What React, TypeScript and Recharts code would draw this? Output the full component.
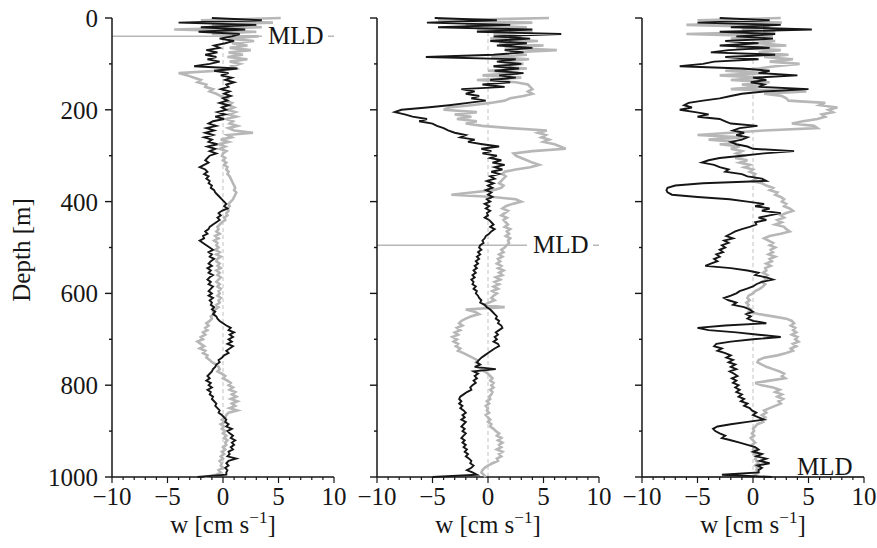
import React from 'react'
import { ScatterChart, Scatter, XAxis, YAxis, ReferenceLine } from 'recharts'

// depth grid, 5 m steps (0..1000 m)
const depths: number[] = Array.from({ length: 201 }, (_, i) => i * 5)

// left profile
const leftBlack = [
  -1, 3.5, -4, 3, -2, 2, -2.2, 1.5, 0.8, -0.3, 1, 0.2, -0.8, -0.3, -1.5, -0.5, -1.6, -0.6, -1.4, -0.3,
  -1.2, -2.6, 1.3, -0.8, 0.5, -0.2, 0.8, 0.2, 1, 0.3, 0.5, -0.2, 0.6, 0.1, 0.7, 0, 0.4, -0.3, 0.5, -0.1,
  0.3, -0.5, 0.2, -0.7, 0.1, -0.9, -1.3, -0.6, -1.5, -0.8, -1.6, -0.9, -1.7, -1, -1.3, -0.5, -1.4, -0.7, -1.2, -0.6,
  -1.2, -1.4, -1.6, -1.3, -1.7, -2.1, -1.6, -1.4, -1.7, -1.3, -1.5, -1.2, -1.3, -1, -1.1, -0.8, -0.7, -0.5, -0.3, -0.1,
  0.1, 0.3, 0.1, 0.4, -0.1, -0.4, -0.2, -0.5, -0.3, -0.6, -0.9, -1.2, -1.3, -1.6, -1.4, -1.8, -1.7, -2.1, -1.8, -1.5,
  -1.2, -0.9, -1.3, -1, -1.2, -0.8, -1.1, -1.3, -1, -1.4, -1.1, -1.3, -0.9, -1.2, -1.4, -1.1, -1.3, -0.9, -1.1, -1.3,
  -1, -1.3, -0.9, -1.2, -1, -1.1, -0.8, -1, -0.7, -0.9, -0.6, -0.5, -0.3, 0, 0.3, 0.7, 0.5, 1, 0.6, 0.9,
  0.5, 0.8, 0.4, 0.9, 0.6, 0.3, 0.5, 0.1, -0.1, -0.4, -0.3, -0.6, -0.7, -0.9, -1, -1.2, -1.4, -1.2, -1.5, -1.1,
  -1.3, -1, -1.4, -1.1, -1.2, -0.9, -1, -0.8, -0.6, -0.7, -0.5, -0.3, -0.4, -0.1, 0.1, 0.3, 0.2, 0.5, 0.3, 0.8,
  0.4, 0.6, 0.9, 0.7, 1.1, 0.8, 1, 0.7, 0.9, 0.5, 0.6, 0.4, 1.2, 0.5, 0.3, 0.5, 0.2, 0.4, 0.3, 0.3,
  -2.3,
]
const leftGray = [
  5.2, -2, 4.5, -1, 3.5, -4.4, 3, -1, 3.2, 0.5, 2.8, 0.8, 2.2, 0.6, 2.5, 0.5, 1.8, 0.4, 2.2, 0.6,
  1.5, 0.8, 1.2, -0.5, -4, -3.2, -2.6, -2, -2.3, -1.5, -1.6, -0.9, -1.2, -0.6, -0.2, 0.4, 0.2, 0.8, 0.5, 1,
  0.4, 1.1, 0.5, 1.2, 0.3, 0.9, 0.6, 1.3, 0.5, 1, 2.7, 0.4, 0.8, -0.2, 0.5, -0.4, 0.2, -0.3, 0.3, 0,
  -0.1, 0.2, 0, 0.3, 0.1, 0.4, 0.3, 0.5, 0.4, 0.6, 0.7, 0.8, 0.9, 1, 1.1, 1, 1.2, 1.1, 1, 0.9,
  0.7, 0.5, 0.6, 0.4, 0.5, 0.3, 0.4, 0.1, 0.2, -0.1, -0.3, -0.5, -0.4, -0.6, -0.3, -0.7, -0.4, -0.8, -0.5, -0.6,
  -0.4, -0.7, -0.3, -0.6, -0.2, -0.5, -0.6, -0.3, -0.5, -0.2, -0.6, -0.3, -0.5, -0.2, -0.4, -0.6, -0.3, -0.5, -0.2, -0.4,
  -0.3, -0.5, -0.2, -0.4, -0.3, -0.6, -0.4, -0.7, -0.9, -0.8, -1.1, -1, -1.2, -1.5, -1.3, -1.6, -1.4, -1.8, -1.6, -2,
  -1.8, -2.3, -2, -1.7, -2.1, -1.6, -1.8, -1.4, -1.5, -1.2, -1, -0.6, -0.4, -0.3, -0.5, -0.1, 0.2, 0, 0.4, 0.7,
  0.5, 0.9, 0.6, 1.1, 0.8, 1.2, 0.7, 1.3, 0.8, 1.1, 0.6, 1.3, 0.5, 0.3, 0.2, -0.1, 0.2, -0.2, 0.1, -0.1,
  0.2, 0, 0.3, 0.1, 0.4, 0.2, 0.3, 0, 0.2, -0.1, 0.1, -0.2, 0, -0.3, -0.1, -0.2, 0, -0.4, -0.2, -0.6,
  -1.7,
]

// middle profile
const midBlack = [
  -4.8, 0.8, -5.5, 2, -4.5, 4, -1, 6.6, 0.5, 3.8, 0.2, 3.5, 0.8, 4, 1.5, 3.2, 0.5, -5.6, 2.5, 0.8,
  3, 0.5, 2.8, 0.6, 3.2, 1, 2.5, 0.2, 2, -0.5, 1.5, -2.4, -1.2, -2, -0.8, -1.5, -0.2, -1.8, -3.5, -5.5,
  -7.8, -8.4, -7.5, -6.8, -5.5, -6.2, -5, -4.6, -4, -3.6, -3, -2, -2.5, -1.2, -1.8, -0.5, 1, -0.6, 0.3, -0.5,
  0.8, 0.2, 1.2, 0.4, 1.5, 0.6, 1.3, 0.3, 1, 0.2, 0.6, -0.1, 0.5, 0, 0.4, -0.2, 0.3, 0, 0.4, -0.1,
  0.2, -0.3, 0.1, -0.2, 0.2, -0.1, 0, -0.3, 0.1, 0.3, 0.5, 0.2, 0.6, 0.3, 0.1, -0.2, -0.3, -0.5, -0.4, -0.7,
  -0.8, -0.6, -0.9, -0.7, -1, -0.8, -1.1, -0.9, -1.2, -1, -1.3, -1.1, -1.4, -1.2, -1.5, -1.3, -1.4, -1.1, -1.3, -1,
  -1.1, -0.9, -0.8, -0.6, -0.7, -0.3, -0.1, 0.2, 0.4, 0.6, 0.8, 0.7, 1, 0.9, 1.2, 1.3, 1, 0.7, 0.9, 0.6,
  0.8, 0.5, 0.9, 1, 0.6, 0.3, 0, -0.3, -0.6, -0.8, -1, -0.7, -1.2, 0.7, -1.3, -0.9, -1.2, -1, -1.3, -1.1,
  -1.4, -1.6, -1.5, -1.9, -2.2, -2.5, -2.6, -2.4, -2.6, -2.3, -2.5, -2.2, -2, -2.3, -2.1, -2.4, -2, -2.2, -2.4, -2.1,
  -2.3, -2, -2.2, -2.4, -2.1, -2.3, -2, -2.2, -1.9, -2.1, -1.8, -2, -1.7, -1.5, -1.6, -1.3, -1.5, -1.9, -1.4, -1,
  -5,
]
const midGray = [
  5.5, -4.5, 4, -2, 3.5, -1, 4, 0.5, 3, 0.2, 4.5, 1, 5, 1.5, 6.2, 2, 3.5, 0.3, 3.7, 1,
  3.2, 0.5, 3.5, 0, 2.8, -0.5, 3, -1, 2.5, 3.6, 3.8, 4, 3.6, 4, 3.2, 2, 1.5, 0.2, -1.5, -3.5,
  -4, -1, -3, -1.5, -2.8, -1, -2, -0.5, 2, 5.3, 4.5, 5.2, 4.8, 5.5, 5, 6, 6.5, 7, 4, 2.3,
  2.5, 3, 3.5, 4, 4.6, 3.8, 2.5, 1.5, 1.3, 1.6, 1.4, 1.2, 1, 1.4, 1.2, 0.5, -1.5, -3.3, 0.5, 2.5,
  3, 2.2, 1.6, 1.3, 1.8, 1.5, 1.2, 1.7, 1.4, 1.6, 1.8, 1.5, 2, 1.7, 1.9, 1.6, 2, 1.8, 1.9, 1.7,
  1.5, 1.2, 1.4, 1, 1.3, 0.9, 1.1, 0.8, 1.2, 0.9, 1.4, 1, 1.3, 0.7, 1.1, 0.6, 1, 0.5, 0.9, 0.4,
  0.8, 0.5, 0.3, 0.6, 0.1, -0.4, 1.5, -2, -1.2, -0.8, -1.5, -2, -2.4, -2.6, -2.3, -2.8, -2.5, -3, -2.7, -3.2,
  -2.8, -3.1, -2.7, -2.9, -2.5, -2.7, -2.2, -1.8, -1.4, -1, -1.1, -0.8, -1, -0.6, -0.3, 0, 0.2, 0.4, 0.2, 0.5,
  0.3, 0.5, 0.2, 0.4, 0.3, 0.1, 0.2, -0.1, 0.1, -0.2, 0, -0.1, 0.1, -0.2, 0, 0.2, 0, 0.3, 0.2, 0.5,
  0.7, 1, 0.8, 1.2, 0.9, 1.3, 1, 1.2, 0.8, 1.3, 1, 1.2, 0.8, 0.9, 0.4, 0, -0.3, -0.5, -0.6, -0.4,
  -0.2,
]

// right profile
const rightBlack = [
  -3, 1.5, -5, 2.5, -2, 5.3, -3, 2, -1.5, 1.8, -2.5, 0.5, -3, 1.5, -2.2, -3.8, 2, -2.5, 0.5, -3.5,
  -4.5, -6.6, -1, 1.5, 0.5, 4, 0, 1.2, -0.2, 1, 0.5, 5, 1, -1, -2, -3, -4.5, -5.8, -6.2, -5.5,
  -6.6, -5.2, -4, -5, -3, -2.5, -2, 0.4, -1.2, -1.8, -0.8, -1.5, -0.5, -1, -2, -1.5, -0.5, 0, 3.7, 1,
  -1, -3, -4, -4.6, -3.5, -3, -2.2, -2.5, -1, -0.5, 0.8, 1.2, -4.5, -7, -7.7, -7.8, -7.7, -7.3, -5, -2.1,
  -0.5, 1, 0.2, 1.5, 0.8, 2.5, 1.5, 0.5, 1.2, 0.2, 0.3, -0.3, -1, -1.6, -2, -2.4, -1.8, -2.6, -2.2, -2.8,
  -2.5, -3, -2.7, -3.3, -3, -3.5, -3.2, -3.8, -4.3, -2, -0.5, 0.5, 0.2, 1.2, 1.8, 0.8, 0.3, 0, -0.6, -1.2,
  -1.5, -2, -2.6, -2.2, -1.5, -1.8, -0.8, -0.3, 0, -0.6, -0.2, -0.5, 0, 1.2, -2.5, -5, -4, -1.5, 0.5, 2.5,
  0, -2, -3.3, -3.5, -2.8, -3.2, -2.5, -2, -2.4, -1.8, -2.2, -1.6, -2, -1.5, -2.1, -1.7, -1.4, -1.9, -1.5, -1.8,
  -1.3, -1.6, -1.2, -1.5, -1, -1.3, -0.8, -1.1, -0.5, -0.8, -0.3, -0.1, 0.3, 0, 0.5, 1, -0.5, -2, -3.2, -3.6,
  -3.4, -3, -2.5, -2.8, -2, -1.2, -0.5, 0.2, 0.5, 0, 0.8, 0.3, 1.2, 0.6, 1.5, 0.4, 0.8, 0.5, 0.5, -2.8,
  1.7,
]
const rightGray = [
  2.5, -5, 2.6, -6, 1.5, -1, 2, -6, 1.8, -2, 2, 0.5, 3, -1.5, 2.5, 0.5, 3.2, 1, 3.6, 1.5,
  4.2, 2, 0.5, -2.5, 1, -3, 0.8, -2, 1.5, -1, 0.5, -2, 4.8, 1, 2.6, 3, 3.2, 6.5, 6, 7.6,
  6.8, 7.2, 6.2, 6.5, 5.8, 4.5, 3.5, 5.5, 5.8, 1, -2, -5, -1, -4, -1.5, -3, -1.2, -2, -1, -1.5,
  -0.8, -1.6, -0.5, -1.2, -0.3, -0.8, 0, -0.3, 0.2, 0, 0.3, -0.1, 0.8, 1.2, 1.8, 1.5, 2.2, 2, 2.5, 2.8,
  2.6, 3, 2.8, 3.3, 3.6, 3, 2.5, 2.8, 2.2, 2.6, 2, 2.8, 3, 3.3, 2.5, 1.5, 1, 1.4, 1.8, 1.5,
  2, 1.6, 1.8, 1.4, 2, 1.5, 1.7, 1.2, 1.6, 1.1, 1.2, 0.9, 1.3, 1, 1.2, 0.8, 1.1, 0.9, 0.6, 0.2,
  0, -0.4, -0.5, -0.3, -0.6, -0.4, -0.5, -0.2, -0.4, 0.5, 1.8, 3, 3.5, 3.7, 3.4, 3.8, 3.6, 3.9, 3.5, 4,
  3.8, 4.1, 3.6, 3.9, 3.4, 3.6, 3, 2.2, 1, 0.5, 0.4, 0.8, 1.2, 1.8, 2.4, 2.8, 2.6, 2.9, 1.5, 0.2,
  0.8, 1.8, 2.4, 2, 2.6, 2.2, 2.7, 2.3, 2.5, 2, 1.5, 1, 1.2, 0.8, 1.1, 0.7, 0.9, 0.4, 0.2, 0,
  0.1, -0.1, 0.1, -0.2, 0, 0.2, -0.1, 0.1, 0, 0.3, 0.1, 0.4, 0.2, 0.3, 0.5, 0.2, 0.4, 0.3, 0.5, 0.2,
  0.3,
]

const mixedLayerDepths = [40, 495, 1000]
const xTicks = [-10, -9, -8, -7, -6, -5, -4, -3, -2, -1, 0, 1, 2, 3, 4, 5, 6, 7, 8, 9, 10]
const yTicks = [0, 100, 200, 300, 400, 500, 600, 700, 800, 900, 1000]

const FONT = '"Liberation Serif", "Times New Roman", serif'
const INK = '#161616'
const GRAY = '#b7b7b7'
const FS = 25
const AXIS_W = 112
const PLOT_W = 222
const RIGHT = 24
const TOP = 18
const BOTTOM = 477
const CHART_H = 548

const toPoints = (vals: number[]) => vals.map((w, i) => ({ w, d: depths[i] }))
const fmt = (v: number) => (v < 0 ? `\u2212${-v}` : `${v}`)
const NoDot = () => <g />

function YTick({ y, payload, showLabel }: any) {
  const v = payload.value
  const major = v % 200 === 0
  return (
    <g>
      <line x1={AXIS_W - (major ? 7 : 3)} x2={AXIS_W} y1={y} y2={y} stroke={INK} strokeWidth={1.4} />
      {showLabel && major && (
        <text x={AXIS_W - 14} y={y + 9} textAnchor="end" fontFamily={FONT} fontSize={FS} fill={INK}>
          {v}
        </text>
      )}
    </g>
  )
}

function XTick({ x, payload }: any) {
  const v = payload.value
  const major = v % 5 === 0
  return (
    <g>
      <line x1={x} x2={x} y1={BOTTOM} y2={BOTTOM + (major ? 6 : 3)} stroke={INK} strokeWidth={1.2} />
      {major && (
        <text x={x} y={BOTTOM + 28} textAnchor="middle" fontFamily={FONT} fontSize={FS} fill={INK}>
          {fmt(v)}
        </text>
      )}
    </g>
  )
}

function XTitle({ viewBox }: any) {
  const cx = viewBox.x + viewBox.width / 2
  return (
    <text x={cx} y={BOTTOM + 56} textAnchor="middle" fontFamily={FONT} fontSize={FS} fill={INK}>
      <tspan>w [cm s</tspan>
      <tspan dy={-10} fontSize={17}>{'\u22121'}</tspan>
      <tspan dy={10}>]</tspan>
    </text>
  )
}

function YTitle() {
  return (
    <text x={30} y={250} transform="rotate(-90 30 250)" textAnchor="middle" fontFamily={FONT} fontSize={FS} fill={INK}>
      Depth [m]
    </text>
  )
}

function MldLabel({ viewBox, atBottom }: any) {
  const { x, y } = viewBox
  if (atBottom) {
    return (
      <text x={x + 155} y={y - 2} fontFamily={FONT} fontSize={FS} fill={INK}>
        MLD
      </text>
    )
  }
  return (
    <g>
      <rect x={x + 150} y={y - 13} width={66} height={26} fill="#fff" />
      <text x={x + 156} y={y + 8} fontFamily={FONT} fontSize={FS} fill={INK}>
        MLD
      </text>
    </g>
  )
}

function Panel({ left, black, gray, mld, showY }: any) {
  return (
    <div style={{ position: 'absolute', left, top: 0 }}>
      <ScatterChart
        width={AXIS_W + PLOT_W + RIGHT}
        height={CHART_H}
        margin={{ top: TOP, right: RIGHT, bottom: 0, left: 0 }}
      >
        <XAxis
          type="number"
          dataKey="w"
          domain={[-10, 10]}
          ticks={xTicks}
          interval={0}
          height={CHART_H - BOTTOM}
          tickLine={false}
          tick={<XTick />}
          axisLine={{ stroke: INK, strokeWidth: 1.5 }}
          label={<XTitle />}
        />
        <YAxis
          type="number"
          dataKey="d"
          domain={[0, 1000]}
          reversed
          ticks={yTicks}
          interval={0}
          width={AXIS_W}
          tickLine={false}
          tick={<YTick showLabel={showY} />}
          axisLine={{ stroke: INK, strokeWidth: 1.5 }}
          label={showY ? <YTitle /> : undefined}
        />
        <ReferenceLine x={0} stroke="#c2c2c2" strokeDasharray="4 3" strokeWidth={1} />
        <ReferenceLine
          y={mld}
          stroke={GRAY}
          strokeWidth={1.5}
          ifOverflow="visible"
          label={<MldLabel atBottom={mld >= 1000} />}
        />
        <Scatter
          data={toPoints(gray)}
          fill={GRAY}
          line={{ stroke: GRAY, strokeWidth: 2.6 }}
          shape={NoDot}
          isAnimationActive={false}
        />
        <Scatter
          data={toPoints(black)}
          fill={INK}
          line={{ stroke: INK, strokeWidth: 1.9 }}
          shape={NoDot}
          isAnimationActive={false}
        />
      </ScatterChart>
    </div>
  )
}

export default function App() {
  return (
    <div style={{ position: 'absolute', left: 0, top: 0, width: 877, height: 548, background: '#fff' }}>
      <Panel left={0} black={leftBlack} gray={leftGray} mld={mixedLayerDepths[0]} showY />
      <Panel left={265} black={midBlack} gray={midGray} mld={mixedLayerDepths[1]} showY={false} />
      <Panel left={530} black={rightBlack} gray={rightGray} mld={mixedLayerDepths[2]} showY={false} />
    </div>
  )
}
